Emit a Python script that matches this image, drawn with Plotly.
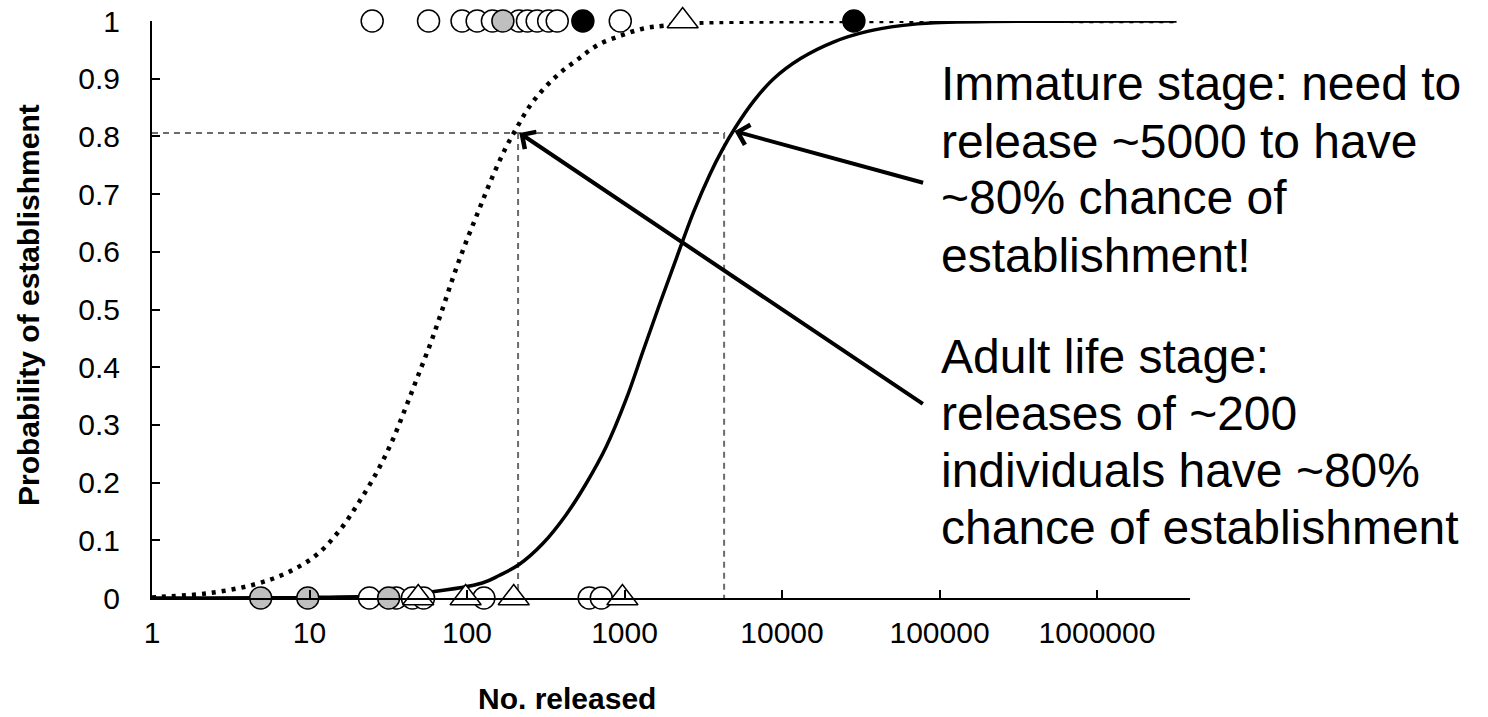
import math
import plotly.graph_objects as go

# ---- data ----
# fitted curve, adult life stage (dotted)
adult_x = [1.0, 1.13, 2.24, 4.4, 7.1, 11, 15.5, 20.6, 27, 33.6, 40.8, 49, 59, 69.7, 82.6,
           98, 118, 141, 176, 209, 248, 308, 394, 514, 673, 955, 1320, 1800, 3000, 10000, 3200000]
adult_p = [0.001, 0.002, 0.008, 0.023, 0.043, 0.074, 0.117, 0.166, 0.22, 0.273, 0.33, 0.386,
           0.443, 0.5, 0.56, 0.615, 0.67, 0.722, 0.78, 0.817, 0.851, 0.883, 0.911, 0.935, 0.958,
           0.975, 0.987, 0.992, 0.997, 0.9995, 1.0]

# fitted curve, immature stage (solid)
imm_x = [1.0, 10, 30, 57, 125, 160, 214, 302, 425, 570, 765, 1026, 1312, 1675, 2143, 2735,
         3494, 4200, 5047, 6607, 8850, 13120, 21380, 34900, 57000, 93000, 3200000]
imm_p = [0.0, 0.001, 0.004, 0.01, 0.026, 0.039, 0.058, 0.094, 0.144, 0.198, 0.262, 0.345,
         0.428, 0.51, 0.59, 0.668, 0.735, 0.778, 0.815, 0.861, 0.9, 0.935, 0.964, 0.982, 0.992,
         0.997, 1.0]

# observed releases (established = 1, failed = 0)
top_open_x = [25, 57, 93, 116, 145, 214, 242, 279, 330, 374, 940]
top_gray_x = [169]
top_black_x = [544, 28600]
top_tri_x = [2340]
bot_open_x = [24, 35.5, 45, 53, 128, 597, 712]
bot_gray_x = [4.9, 9.75, 31.8]
bot_tri_x = [49, 98, 198, 970]

# 80% reference
ref_p = 0.806
adult_x80 = 211
imm_x80 = 4290

x_tickvals = [1, 10, 100, 1000, 10000, 100000, 1000000]
x_ticktext = ["1", "10", "100", "1000", "10000", "100000", "1000000"]
y_tickvals = [0, 0.1, 0.2, 0.3, 0.4, 0.5, 0.6, 0.7, 0.8, 0.9, 1]
y_ticktext = ["0", "0.1", "0.2", "0.3", "0.4", "0.5", "0.6", "0.7", "0.8", "0.9", "1"]

note_immature = ["Immature stage: need to", "release ~5000 to have", "~80% chance of", "establishment!"]
note_adult = ["Adult life stage:", "releases of ~200", "individuals have ~80%", "chance of establishment"]

FONT = "Liberation Sans, Arial, sans-serif"

# plot-area geometry in pixels (for paper-referenced text placement)
L, R, T, B = 152, 1190, 21, 598
W, H = R - L, B - T
DECADE = 157.5


def px(xp):
    return (xp - L) / W


def py(yp):
    return (B - yp) / H


fig = go.Figure()

# dashed guide lines
guide = dict(color="#6b6b6b", width=2, dash="6px,5px")
fig.add_trace(go.Scatter(x=[1, imm_x80, imm_x80], y=[ref_p, ref_p, 0], mode="lines",
                         line=guide, hoverinfo="skip", cliponaxis=False))
fig.add_trace(go.Scatter(x=[adult_x80, adult_x80], y=[ref_p, 0], mode="lines",
                         line=guide, hoverinfo="skip", cliponaxis=False))

# curves
fig.add_trace(go.Scatter(x=adult_x, y=adult_p, mode="lines", line_shape="spline",
                         line=dict(color="black", width=4.5, dash="4px,6px"), cliponaxis=False))
fig.add_trace(go.Scatter(x=imm_x, y=imm_p, mode="lines", line_shape="spline",
                         line=dict(color="black", width=3.5), cliponaxis=False))


def pts(xs, val):
    return [val] * len(xs)


mk_line = dict(color="black", width=1.5)
fig.add_trace(go.Scatter(x=top_open_x + bot_open_x, y=pts(top_open_x, 1) + pts(bot_open_x, 0),
                         mode="markers", cliponaxis=False,
                         marker=dict(symbol="circle", size=22, color="white", line=mk_line)))
fig.add_trace(go.Scatter(x=top_gray_x + bot_gray_x, y=pts(top_gray_x, 1) + pts(bot_gray_x, 0),
                         mode="markers", cliponaxis=False,
                         marker=dict(symbol="circle", size=22, color="#bfbfbf", line=mk_line)))
fig.add_trace(go.Scatter(x=top_black_x, y=pts(top_black_x, 1),
                         mode="markers", cliponaxis=False,
                         marker=dict(symbol="circle", size=22, color="black", line=mk_line)))
fig.add_trace(go.Scatter(x=top_tri_x + bot_tri_x, y=pts(top_tri_x, 1) + pts(bot_tri_x, 0),
                         mode="markers", cliponaxis=False,
                         marker=dict(symbol="triangle-up", size=27, color="white", line=mk_line)))

annotations = [
    # arrows
    dict(x=math.log10(5000), y=0.809, xref="x", yref="y", ax=190, ay=52, text="",
         showarrow=True, arrowhead=4, arrowsize=1, arrowwidth=4, arrowcolor="black", standoff=0),
    dict(x=math.log10(215), y=0.806, xref="x", yref="y", ax=405, ay=272, text="",
         showarrow=True, arrowhead=4, arrowsize=1, arrowwidth=4, arrowcolor="black", standoff=0),
    # axis titles
    dict(x=px(28), y=py(305), xref="paper", yref="paper", textangle=-90,
         xanchor="center", yanchor="middle", showarrow=False,
         text="<b>Probability of establishment</b>", font=dict(family=FONT, size=30, color="black")),
    dict(x=px(567), y=py(698), xref="paper", yref="paper",
         xanchor="center", yanchor="middle", showarrow=False,
         text="<b>No. released</b>", font=dict(family=FONT, size=30, color="black")),
]

# text blocks, one annotation per line (line pitch 57 px)
for i, line in enumerate(note_immature):
    annotations.append(dict(x=px(939), y=py(84 + 57 * i), xref="paper", yref="paper",
                            xanchor="left", yanchor="middle", align="left", showarrow=False,
                            text=line, font=dict(family=FONT, size=48, color="black")))
for i, line in enumerate(note_adult):
    annotations.append(dict(x=px(939), y=py(356 + 57 * i), xref="paper", yref="paper",
                            xanchor="left", yanchor="middle", align="left", showarrow=False,
                            text=line, font=dict(family=FONT, size=48, color="black")))

fig.update_layout(
    width=1488, height=717,
    margin=dict(l=L, r=1488 - R, t=T, b=717 - B, autoexpand=False),
    paper_bgcolor="white", plot_bgcolor="white",
    showlegend=False,
    font=dict(family=FONT, size=30, color="black"),
    annotations=annotations,
    xaxis=dict(type="log", range=[0, (R - L) / DECADE], tickvals=x_tickvals, ticktext=x_ticktext,
               automargin=False,
               showgrid=False, zeroline=False, showline=True, linecolor="black", linewidth=2,
               ticks="inside", ticklen=8, tickwidth=2, tickcolor="black",
               ticklabelstandoff=7, tickfont=dict(size=30)),
    yaxis=dict(range=[0, 1], tickvals=y_tickvals, ticktext=y_ticktext,
               automargin=False,
               showgrid=False, zeroline=False, showline=True, linecolor="black", linewidth=2,
               ticks="inside", ticklen=8, tickwidth=2, tickcolor="black",
               ticklabelstandoff=24, tickfont=dict(size=30)),
)

fig.write_html("out.html")
